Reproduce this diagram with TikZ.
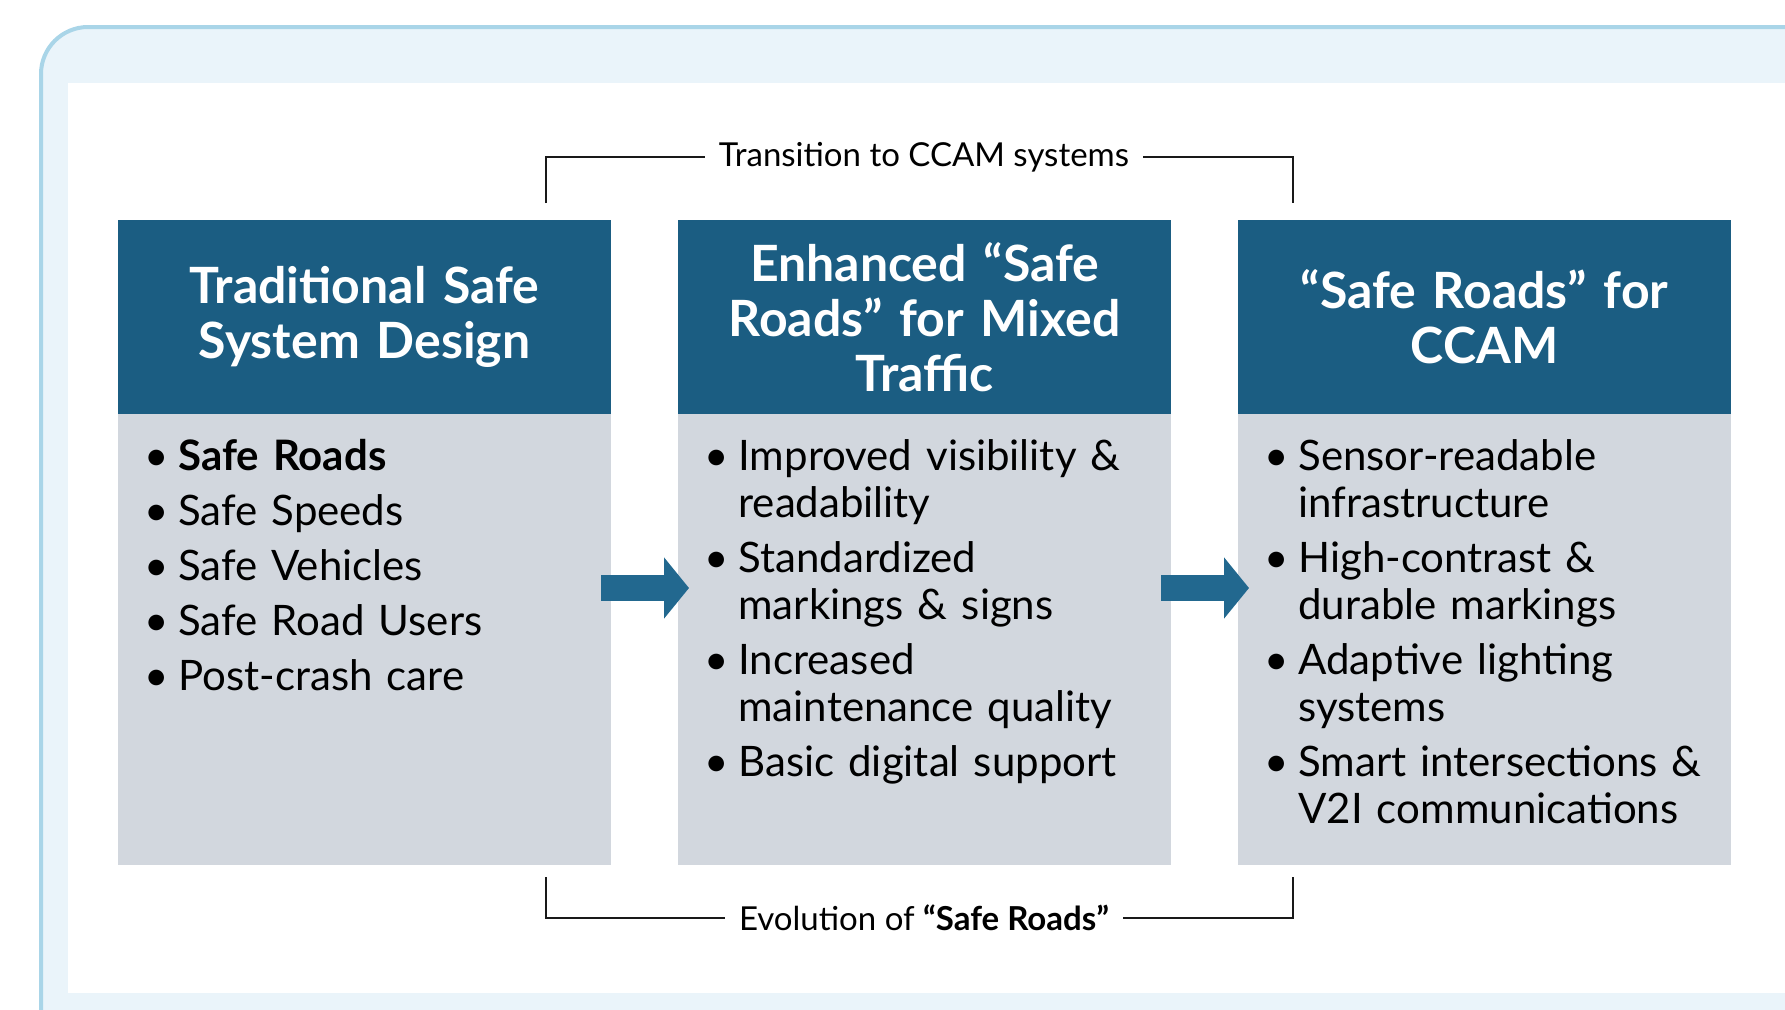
\documentclass[tikz,border=0pt]{standalone}
\usepackage{fontspec}
\setmainfont{Lato}
\usetikzlibrary{positioning,arrows.meta}

\definecolor{headblue}{HTML}{1B5D82}
\definecolor{arrowblue}{HTML}{22688F}
\definecolor{bodygray}{HTML}{D2D7DE}
\definecolor{framefill}{HTML}{EAF4FA}
\definecolor{frameline}{HTML}{A9D5E8}

% one bullet of a list, later lines hang under the text
\newcommand{\bitem}[1]{\hangindent=17pt\hangafter=1\noindent\strut\makebox[17pt][l]{\textbullet}#1\par}

\begin{document}
\begin{tikzpicture}[x=0.5pt, y=-0.5pt,
	headbox/.style={fill=headblue, text=white, minimum width=246.5pt, minimum height=97pt,
		text width=235pt, align=center, inner sep=0pt, outer sep=0pt,
		font=\fontsize{25}{27.5}\selectfont\bfseries},
	bodybox/.style={fill=bodygray, minimum width=246.5pt, minimum height=225.5pt,
		inner sep=0pt, outer sep=0pt},
	listtext/.style={anchor=north west, inner sep=0pt, text width=228pt, align=left,
		font=\fontsize{21}{23.5}\selectfont\setlength{\parskip}{4pt}},
	bracket/.style={draw=black!90, line width=1.4pt},
	tag/.style={inner xsep=7pt, inner ysep=0pt, font=\fontsize{16.5}{19}\selectfont},
	flowarrow/.style={draw=arrowblue, line width=13pt, -{Triangle[length=12.5pt, width=30pt]}}]

\useasboundingbox (0,0) rectangle (1785,1009);
\clip (0,0) rectangle (1785,1009);

% frame
\draw[draw=frameline, fill=framefill, line width=2pt, rounded corners=23.5pt]
	(41,27) rectangle (1840,1070);
\fill[white] (68,83) rectangle (1800,993);

% the three stages
\node[headbox] (h1) at (364.5,317) {Traditional Safe\\System Design};
\node[headbox, right=33.5pt of h1] (h2) {Enhanced “Safe\\Roads” for Mixed\\Traffic};
\node[headbox, right=33.5pt of h2] (h3) {“Safe Roads” for\\CCAM};

\foreach \i in {1,2,3}
	\node[bodybox, below=0pt of h\i] (b\i) {};

\node[listtext] (l1) at ([shift={(13pt,-11.5pt)}]b1.north west) {%
	\bitem{\textbf{Safe Roads}}
	\bitem{Safe Speeds}
	\bitem{Safe Vehicles}
	\bitem{Safe Road Users}
	\bitem{Post-crash care}};
\node[listtext] (l2) at ([shift={(13pt,-11.5pt)}]b2.north west) {%
	\bitem{Improved visibility \&\newline readability}
	\bitem{Standardized\newline markings \& signs}
	\bitem{Increased\newline maintenance quality}
	\bitem{Basic digital support}};
\node[listtext] (l3) at ([shift={(13pt,-11.5pt)}]b3.north west) {%
	\bitem{Sensor-readable\newline infrastructure}
	\bitem{High-contrast \&\newline durable markings}
	\bitem{Adaptive lighting\newline systems}
	\bitem{Smart intersections \&\newline V2I communications}};

% arrows between stages
\draw[flowarrow] ([shift={(-5pt,25.75pt)}]b1.east) -- ([shift={(5.5pt,25.75pt)}]b2.west);
\draw[flowarrow] ([shift={(-5pt,25.75pt)}]b2.east) -- ([shift={(5.5pt,25.75pt)}]b3.west);

% brackets
\coordinate (tl) at (546,203);
\coordinate (tr) at (1293,203);
\coordinate (bl) at (546,877);
\coordinate (br) at (1293,877);
\node[tag] (toptag) at (924,157) {Transition to CCAM systems};
\node[tag] (bottag) at (924,918) {Evolution of \textbf{“Safe Roads”}};
\draw[bracket] (tl) |- (toptag.west);
\draw[bracket] (toptag.east) -| (tr);
\draw[bracket] (bl) |- (bottag.west);
\draw[bracket] (bottag.east) -| (br);
\end{tikzpicture}
\end{document}
